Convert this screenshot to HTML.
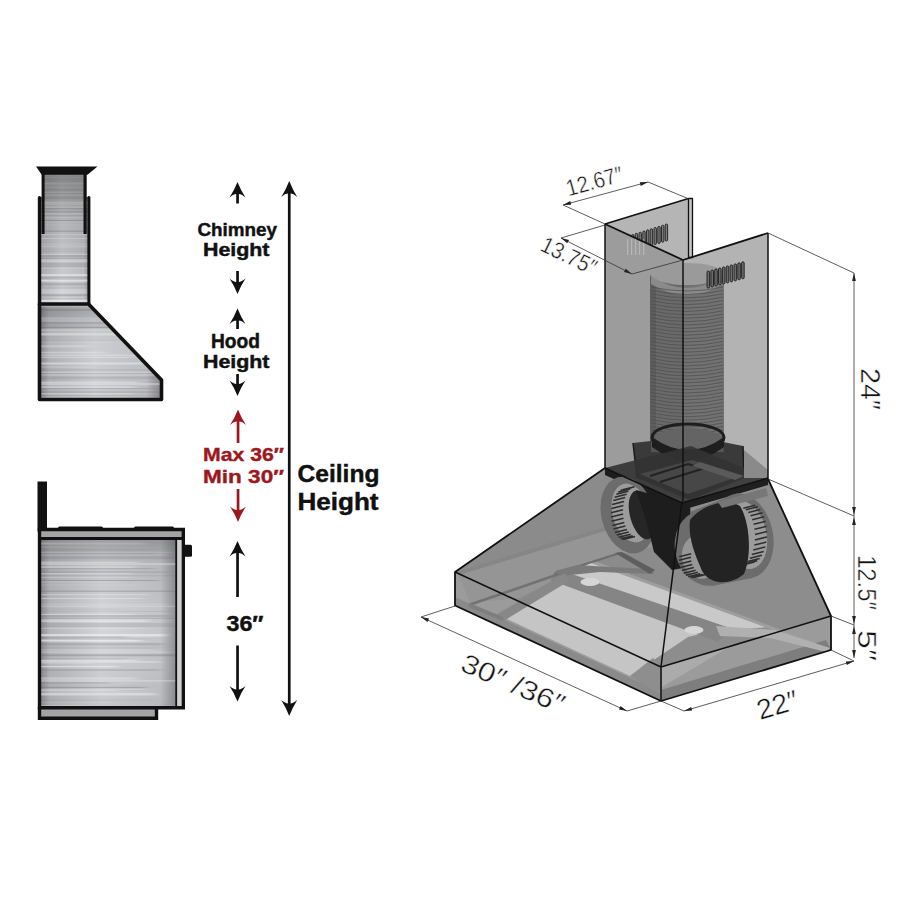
<!DOCTYPE html>
<html><head><meta charset="utf-8">
<style>
html,body{margin:0;padding:0;background:#fff;width:900px;height:900px;overflow:hidden}
svg{display:block}
text{font-family:"Liberation Sans",sans-serif}
</style></head>
<body>
<svg width="900" height="900" viewBox="0 0 900 900">
<defs>
  <linearGradient id="metal" x1="0" y1="0" x2="1" y2="0">
    <stop offset="0" stop-color="#9a9a9a"/>
    <stop offset="0.5" stop-color="#d0d0d2"/>
    <stop offset="1" stop-color="#a0a0a0"/>
  </linearGradient>
  <linearGradient id="metalH" x1="0" y1="0" x2="1" y2="0">
    <stop offset="0" stop-color="#8a8a8e"/>
    <stop offset="0.07" stop-color="#b6b7bb"/>
    <stop offset="0.45" stop-color="#d6d7db"/>
    <stop offset="0.88" stop-color="#c6c7cb"/>
    <stop offset="1" stop-color="#8e8e92"/>
  </linearGradient>
  <filter id="hblur" x="-10%" y="-10%" width="120%" height="120%"><feGaussianBlur stdDeviation="4 0.35"/></filter>
  <linearGradient id="vigV" x1="0" y1="0" x2="0" y2="1">
    <stop offset="0" stop-color="#404040" stop-opacity="0.38"/>
    <stop offset="0.15" stop-color="#404040" stop-opacity="0.12"/>
    <stop offset="0.5" stop-color="#404040" stop-opacity="0"/>
    <stop offset="1" stop-color="#404040" stop-opacity="0.1"/>
  </linearGradient>
  <linearGradient id="chimV" x1="0" y1="0" x2="0" y2="1">
    <stop offset="0" stop-color="#303030" stop-opacity="0.5"/>
    <stop offset="0.35" stop-color="#303030" stop-opacity="0.2"/>
    <stop offset="1" stop-color="#303030" stop-opacity="0"/>
  </linearGradient>
  <linearGradient id="hoodV" x1="0" y1="0" x2="0" y2="1">
    <stop offset="0" stop-color="#303030" stop-opacity="0.3"/>
    <stop offset="0.4" stop-color="#303030" stop-opacity="0.05"/>
    <stop offset="1" stop-color="#303030" stop-opacity="0.08"/>
  </linearGradient>
  <pattern id="brush" width="200" height="180" patternUnits="userSpaceOnUse">
    <rect x="-34" y="2.5" width="178" height="2" fill="#ffffff" opacity="0.48"/>
    <rect x="-36" y="6.5" width="129" height="1" fill="#ffffff" opacity="0.32"/>
    <rect x="-27" y="9.0" width="183" height="0.8" fill="#6a6a70" opacity="0.11"/>
    <rect x="-27" y="9.8" width="176" height="1.5" fill="#6a6a70" opacity="0.09"/>
    <rect x="-6" y="11.8" width="176" height="1" fill="#ffffff" opacity="0.37"/>
    <rect x="-18" y="13.3" width="175" height="0.8" fill="#6a6a70" opacity="0.25"/>
    <rect x="1" y="14.1" width="163" height="1.5" fill="#ffffff" opacity="0.23"/>
    <rect x="-22" y="16.6" width="199" height="1.2" fill="#6a6a70" opacity="0.20"/>
    <rect x="13" y="18.3" width="193" height="0.8" fill="#6a6a70" opacity="0.22"/>
    <rect x="-31" y="21.6" width="169" height="1.5" fill="#ffffff" opacity="0.45"/>
    <rect x="7" y="23.1" width="202" height="2" fill="#ffffff" opacity="0.37"/>
    <rect x="8" y="26.1" width="127" height="2" fill="#ffffff" opacity="0.35"/>
    <rect x="-36" y="28.1" width="190" height="1" fill="#6a6a70" opacity="0.26"/>
    <rect x="-17" y="31.1" width="187" height="2" fill="#6a6a70" opacity="0.16"/>
    <rect x="-10" y="33.1" width="142" height="1.2" fill="#ffffff" opacity="0.39"/>
    <rect x="15" y="35.3" width="170" height="1" fill="#6a6a70" opacity="0.19"/>
    <rect x="-32" y="36.8" width="163" height="1.2" fill="#ffffff" opacity="0.26"/>
    <rect x="1" y="40.0" width="158" height="1" fill="#6a6a70" opacity="0.35"/>
    <rect x="-0" y="41.5" width="121" height="1" fill="#ffffff" opacity="0.21"/>
    <rect x="-15" y="44.5" width="157" height="1" fill="#ffffff" opacity="0.15"/>
    <rect x="-13" y="50.5" width="207" height="1.5" fill="#6a6a70" opacity="0.28"/>
    <rect x="-11" y="54.0" width="160" height="1.2" fill="#ffffff" opacity="0.31"/>
    <rect x="-34" y="58.0" width="177" height="1" fill="#ffffff" opacity="0.39"/>
    <rect x="-17" y="63.8" width="183" height="0.8" fill="#ffffff" opacity="0.23"/>
    <rect x="11" y="65.6" width="219" height="1.5" fill="#ffffff" opacity="0.20"/>
    <rect x="-34" y="68.6" width="154" height="1.2" fill="#6a6a70" opacity="0.10"/>
    <rect x="-39" y="70.8" width="215" height="1.2" fill="#6a6a70" opacity="0.12"/>
    <rect x="-38" y="74.0" width="173" height="1" fill="#ffffff" opacity="0.37"/>
    <rect x="14" y="75.0" width="156" height="2" fill="#6a6a70" opacity="0.22"/>
    <rect x="-2" y="77.5" width="181" height="1.5" fill="#6a6a70" opacity="0.22"/>
    <rect x="8" y="79.5" width="140" height="2.5" fill="#ffffff" opacity="0.31"/>
    <rect x="7" y="83.5" width="167" height="1" fill="#6a6a70" opacity="0.35"/>
    <rect x="9" y="85.0" width="192" height="2" fill="#6a6a70" opacity="0.17"/>
    <rect x="-12" y="88.0" width="154" height="1" fill="#ffffff" opacity="0.19"/>
    <rect x="-19" y="94.0" width="184" height="2.5" fill="#ffffff" opacity="0.51"/>
    <rect x="-11" y="96.5" width="138" height="1.2" fill="#6a6a70" opacity="0.28"/>
    <rect x="-16" y="98.7" width="160" height="0.8" fill="#6a6a70" opacity="0.34"/>
    <rect x="-38" y="99.5" width="179" height="2" fill="#ffffff" opacity="0.55"/>
    <rect x="-4" y="103.0" width="167" height="2.5" fill="#6a6a70" opacity="0.25"/>
    <rect x="-39" y="106.5" width="217" height="1" fill="#6a6a70" opacity="0.12"/>
    <rect x="19" y="107.5" width="139" height="1.5" fill="#6a6a70" opacity="0.12"/>
    <rect x="-26" y="109.5" width="179" height="0.8" fill="#ffffff" opacity="0.27"/>
    <rect x="15" y="111.3" width="155" height="1.5" fill="#ffffff" opacity="0.20"/>
    <rect x="-15" y="114.3" width="212" height="2" fill="#6a6a70" opacity="0.32"/>
    <rect x="-39" y="118.3" width="164" height="1" fill="#6a6a70" opacity="0.22"/>
    <rect x="-30" y="119.8" width="167" height="1.5" fill="#ffffff" opacity="0.47"/>
    <rect x="-8" y="121.3" width="168" height="1.5" fill="#ffffff" opacity="0.42"/>
    <rect x="-37" y="122.8" width="130" height="1.5" fill="#ffffff" opacity="0.23"/>
    <rect x="-36" y="125.8" width="153" height="1.5" fill="#ffffff" opacity="0.51"/>
    <rect x="-13" y="129.3" width="173" height="1.5" fill="#6a6a70" opacity="0.27"/>
    <rect x="-16" y="137.3" width="152" height="2.5" fill="#ffffff" opacity="0.32"/>
    <rect x="7" y="140.3" width="210" height="1.2" fill="#ffffff" opacity="0.42"/>
    <rect x="-25" y="142.0" width="134" height="2" fill="#6a6a70" opacity="0.18"/>
    <rect x="13" y="145.5" width="136" height="1" fill="#6a6a70" opacity="0.11"/>
    <rect x="-16" y="147.0" width="162" height="1" fill="#6a6a70" opacity="0.35"/>
    <rect x="-20" y="149.0" width="166" height="1" fill="#ffffff" opacity="0.30"/>
    <rect x="-9" y="150.0" width="126" height="1.2" fill="#ffffff" opacity="0.40"/>
    <rect x="14" y="151.7" width="138" height="0.8" fill="#ffffff" opacity="0.26"/>
    <rect x="9" y="153.0" width="146" height="2.5" fill="#ffffff" opacity="0.51"/>
    <rect x="-37" y="159.5" width="189" height="1.2" fill="#6a6a70" opacity="0.10"/>
    <rect x="-35" y="162.2" width="146" height="0.8" fill="#ffffff" opacity="0.16"/>
    <rect x="-33" y="165.0" width="121" height="2.5" fill="#ffffff" opacity="0.26"/>
    <rect x="-26" y="171.7" width="131" height="1.5" fill="#ffffff" opacity="0.36"/>
    <rect x="-21" y="173.7" width="151" height="1" fill="#ffffff" opacity="0.23"/>
    <rect x="-24" y="175.2" width="200" height="1" fill="#ffffff" opacity="0.42"/>
    <rect x="-7" y="177.2" width="139" height="0.8" fill="#ffffff" opacity="0.44"/>
  </pattern>
</defs>

<!-- ============ LEFT SCHEMATIC ============ -->
<g id="chimney">
  <polygon points="42,174 86,174 86,197 90,197 90,304 39,304 39,197 42,197" fill="url(#metalH)"/>
  <clipPath id="clipChim"><polygon points="42,174 86,174 86,197 90,197 90,304 39,304 39,197 42,197"/></clipPath><g clip-path="url(#clipChim)"><rect x="20" y="170" width="90" height="140" fill="url(#brush)" filter="url(#hblur)"/></g>
  <polygon points="42,174 86,174 86,197 90,197 90,304 39,304 39,197 42,197" fill="url(#chimV)"/>
  <polygon points="36,166.5 97.5,166.5 87.5,174.8 41.7,174.8" fill="#111"/>
  <rect x="41.6" y="174" width="3" height="60" fill="#111"/>
  <rect x="83.5" y="174" width="3.2" height="60" fill="#111"/>
  <rect x="37.8" y="196" width="3.4" height="110" rx="1.7" fill="#111"/>
  <rect x="87.4" y="196" width="3" height="110" rx="1.5" fill="#111"/>
</g>
<g id="hood">
  <polygon points="40.5,304 88.5,304 160.5,380.5 160.5,398.5 40.5,398.5" fill="url(#metalH)"/>
  <clipPath id="clipHood"><polygon points="40.5,304 88.5,304 160.5,380.5 160.5,398.5 40.5,398.5"/></clipPath><g clip-path="url(#clipHood)"><rect x="20" y="300" width="160" height="105" fill="url(#brush)" filter="url(#hblur)"/></g>
  <polygon points="40.5,304 88.5,304 160.5,380.5 160.5,398.5 40.5,398.5" fill="url(#hoodV)"/>
  <polygon points="39.5,304 88.5,304 161.5,380 161.5,399.5 39.5,399.5" fill="none" stroke="#111" stroke-width="3.6" stroke-linejoin="round"/>
</g>

<g id="range">
  <rect x="37.5" y="481.5" width="9.5" height="50" fill="#111"/>
  <rect x="58" y="526.5" width="45" height="4" rx="1.5" fill="#111"/>
  <rect x="134" y="526.5" width="40" height="4" rx="1.5" fill="#111"/>
  <rect x="40" y="539" width="137" height="168" fill="url(#metalH)"/>
  <clipPath id="clipRange"><rect x="40" y="539" width="137" height="168"/></clipPath><g clip-path="url(#clipRange)"><rect x="20" y="535" width="180" height="176" fill="url(#brush)" filter="url(#hblur)"/></g>
  <rect x="40" y="539" width="137" height="168" fill="url(#vigV)"/>
  <rect x="40" y="531" width="142" height="6" fill="#a4a4a4"/>
  <rect x="40" y="709" width="115" height="8.5" fill="#a4a4a4"/>
  <rect x="176.5" y="539" width="5" height="168" fill="#cfcfcf"/>
  <path d="M39.5,529.5 H183.3 V707.8 H39.5 Z" fill="none" stroke="#111" stroke-width="3.4"/>
  <path d="M39,538.5 H182" stroke="#111" stroke-width="3"/>
  <path d="M176.2,539 V707" stroke="#111" stroke-width="1.8"/>
  <path d="M39.5,707 V718.3 H156.5 V707" fill="none" stroke="#111" stroke-width="3.4"/>
  <rect x="183" y="544.8" width="9" height="12" rx="1.5" fill="#111"/>
</g>

<!-- ============ ARROWS & LABELS ============ -->
<g fill="#111">
  <path d="M237.5,182.0 Q241.1,191.0 245.5,197.5 Q240.5,193.3 237.5,194.3 Q234.5,193.3 229.5,197.5 Q233.9,191.0 237.5,182.0 Z"/>
  <rect x="236.2" y="192" width="2.7" height="11.5"/>
  <rect x="236.2" y="271" width="2.7" height="12"/>
  <path d="M237.5,294.0 Q241.1,285.0 245.5,278.5 Q240.5,282.7 237.5,281.7 Q234.5,282.7 229.5,278.5 Q233.9,285.0 237.5,294.0 Z"/>
  <path d="M237.5,308.5 Q241.1,317.5 245.5,324.0 Q240.5,319.8 237.5,320.8 Q234.5,319.8 229.5,324.0 Q233.9,317.5 237.5,308.5 Z"/>
  <rect x="236.2" y="318" width="2.7" height="11"/>
  <rect x="236.2" y="374" width="2.7" height="11"/>
  <path d="M237.5,396.0 Q241.1,387.0 245.5,380.5 Q240.5,384.7 237.5,383.7 Q234.5,384.7 229.5,380.5 Q233.9,387.0 237.5,396.0 Z"/>
  <path d="M237.5,541.0 Q241.1,550.0 245.5,556.5 Q240.5,552.3 237.5,553.3 Q234.5,552.3 229.5,556.5 Q233.9,550.0 237.5,541.0 Z"/>
  <rect x="236.2" y="551" width="2.7" height="46"/>
  <rect x="236.2" y="645.5" width="2.7" height="46"/>
  <path d="M237.5,701.5 Q241.1,692.5 245.5,686.0 Q240.5,690.2 237.5,689.2 Q234.5,690.2 229.5,686.0 Q233.9,692.5 237.5,701.5 Z"/>
  <rect x="287.9" y="192" width="2.7" height="514"/>
  <path d="M289.25,181.0 Q292.85,190.0 297.25,197.0 Q292.25,192.8 289.25,193.8 Q286.25,192.8 281.25,197.0 Q285.65,190.0 289.25,181.0 Z"/>
  <path d="M289.25,716.0 Q292.85,707.0 297.25,700.0 Q292.25,704.2 289.25,703.2 Q286.25,704.2 281.25,700.0 Q285.65,707.0 289.25,716.0 Z"/>
</g>
<g fill="#9c1820">
  <path d="M238.0,409.5 Q241.6,418.5 246.0,425.0 Q241.0,420.8 238.0,421.8 Q235.0,420.8 230.0,425.0 Q234.4,418.5 238.0,409.5 Z"/>
  <rect x="236.7" y="420" width="2.7" height="23"/>
  <rect x="236.7" y="489" width="2.7" height="23"/>
  <path d="M238.0,522.0 Q241.6,513.0 246.0,506.5 Q241.0,510.7 238.0,509.7 Q235.0,510.7 230.0,506.5 Q234.4,513.0 238.0,522.0 Z"/>
</g>

<g font-weight="bold" fill="#111" stroke="#111" stroke-width="0.45">
  <text x="197.5" y="236" font-size="18.5" textLength="79.5" lengthAdjust="spacingAndGlyphs">Chimney</text>
  <text x="203" y="256.3" font-size="18.5" textLength="66.5" lengthAdjust="spacingAndGlyphs">Height</text>
  <text x="211" y="347.5" font-size="19.5" textLength="49" lengthAdjust="spacingAndGlyphs">Hood</text>
  <text x="203" y="367.7" font-size="18.5" textLength="66.5" lengthAdjust="spacingAndGlyphs">Height</text>
  <text x="226.5" y="630.5" font-size="22.5" textLength="37" lengthAdjust="spacingAndGlyphs">36″</text>
  <text x="297.5" y="482" font-size="24" textLength="82" lengthAdjust="spacingAndGlyphs">Ceiling</text>
  <text x="297.5" y="510" font-size="24" textLength="81" lengthAdjust="spacingAndGlyphs">Height</text>
</g>
<g font-weight="bold" fill="#9c1820" stroke="#9c1820" stroke-width="0.4">
  <text x="203" y="461" font-size="19" textLength="81" lengthAdjust="spacingAndGlyphs">Max 36″</text>
  <text x="203" y="483" font-size="19" textLength="81" lengthAdjust="spacingAndGlyphs">Min 30″</text>
</g>

<!-- ============ 3D HOOD ============ -->
<g id="hood3d">
  <!-- base region fills -->
  <polygon points="455,572 661,667 831,616 831,650 661,701 455,605.5" fill="#9b9b9b"/>
  <polygon points="605,468 682,501 661,667 455,572" fill="#8b8b8b"/>
  <polygon points="682,501 768,479 831,616 661,667" fill="#8d8d8d"/>
  <!-- inner back-top edge band (A-D) -->
  <polygon points="455,572 624,521 628,524 459,575" fill="#868686"/>
  <polygon points="459,575 628,524 660,545 590,561 520,598 470,603" fill="#959595"/>
  <!-- interior floor (light) -->
  <polygon points="507,619 566,578 718,630 688,637 630,676" fill="#c5c5c5"/>
  <polygon points="592,562 770,627 729,630 566,576" fill="#c9c9c9"/>
  <path d="M590,561 L829,649" stroke="#9e9e9e" stroke-width="3" fill="none"/>
  <!-- darker bands along front bottom -->
  <polygon points="455,597 661,692 661,701 455,605.5" fill="#8a8a8a"/>
  <polygon points="661,690 826,640 831,650 661,701" fill="#7e7e7e"/>
  <!-- corner trapezoid & light triangle -->
  <polygon points="630,676 653,658 662,667 662,696" fill="#8e8e8e"/>
  <polygon points="662,667 734,644 662,687" fill="#ababab"/>
  <!-- filter rail band -->
  <polygon points="560,570 730,628 718,642 550,580" fill="#858585"/>
  <polygon points="716,626 775,630 830,648 826,652 770,638 720,636" fill="#b0b0b0"/>
  <ellipse cx="590" cy="582" rx="9.5" ry="4" fill="#d6d6d6"/>
  <ellipse cx="694" cy="630" rx="9.5" ry="4" fill="#d6d6d6"/>
  <!-- struts -->
  <path d="M469,605 L579,567" stroke="#727272" stroke-width="2.6" fill="none"/>
  <path d="M554,574 L620,553" stroke="#6e6e6e" stroke-width="2.2" fill="none"/>
  <polygon points="555,571 577,565 610,567 652,569 654,574 600,572 560,576" fill="#7a7a7a"/>
  <polygon points="615,553 622,552 655,570 650,574" fill="#5e5e5e"/>
  <path d="M498,619 L567,577" stroke="#888" stroke-width="9" fill="none"/>
  <path d="M469,605 L503,619" stroke="#7e7e7e" stroke-width="4" fill="none"/>
  

  <!-- CHIMNEY faces -->
  <polygon points="605,224 688.5,198.5 688.5,258 683,260" fill="#b5b5b5"/>
  <polygon points="605,224 683,260 683,501 605,468" fill="#9c9c9c"/>
  <polygon points="683,260 768,233 768,479 683,501" fill="#b3b3b3"/>
  <!-- duct cylinder -->
  <rect x="650" y="273" width="74" height="172" fill="#6a6a6a"/>
  <rect x="683" y="273" width="41" height="172" fill="#727272"/>
  <rect x="650" y="273" width="6" height="172" fill="#5e5e5e"/>
  <ellipse cx="687" cy="274" rx="37" ry="11" fill="#9a9a9a"/>
  <path d="M651,276 Q687,300 723,276 L723,284 Q687,306 651,284 Z" fill="#8a8a8a"/>
  <path d="M651,287.0 Q687,295.0 723,287.0 M651,290.4 Q687,298.4 723,290.4 M651,293.8 Q687,301.8 723,293.8 M651,297.2 Q687,305.2 723,297.2 M651,300.6 Q687,308.6 723,300.6 M651,304.0 Q687,312.0 723,304.0 M651,307.4 Q687,315.4 723,307.4 M651,310.8 Q687,318.8 723,310.8 M651,314.2 Q687,322.2 723,314.2 M651,317.6 Q687,325.6 723,317.6 M651,321.0 Q687,329.0 723,321.0 M651,324.4 Q687,332.4 723,324.4 M651,327.8 Q687,335.8 723,327.8 M651,331.2 Q687,339.2 723,331.2 M651,334.6 Q687,342.6 723,334.6 M651,338.0 Q687,346.0 723,338.0 M651,341.4 Q687,349.4 723,341.4 M651,344.8 Q687,352.8 723,344.8 M651,348.2 Q687,356.2 723,348.2 M651,351.6 Q687,359.6 723,351.6 M651,355.0 Q687,363.0 723,355.0 M651,358.4 Q687,366.4 723,358.4 M651,361.8 Q687,369.8 723,361.8 M651,365.2 Q687,373.2 723,365.2 M651,368.6 Q687,376.6 723,368.6 M651,372.0 Q687,380.0 723,372.0 M651,375.4 Q687,383.4 723,375.4 M651,378.8 Q687,386.8 723,378.8 M651,382.2 Q687,390.2 723,382.2 M651,385.6 Q687,393.6 723,385.6 M651,389.0 Q687,397.0 723,389.0 M651,392.4 Q687,400.4 723,392.4 M651,395.8 Q687,403.8 723,395.8 M651,399.2 Q687,407.2 723,399.2 M651,402.6 Q687,410.6 723,402.6 M651,406.0 Q687,414.0 723,406.0 M651,409.4 Q687,417.4 723,409.4 M651,412.8 Q687,420.8 723,412.8 M651,416.2 Q687,424.2 723,416.2 M651,419.6 Q687,427.6 723,419.6 M651,423.0 Q687,431.0 723,423.0 M651,426.4 Q687,434.4 723,426.4 M651,429.8 Q687,437.8 723,429.8 M651,433.2 Q687,441.2 723,433.2 M651,436.6 Q687,444.6 723,436.6 M651,440.0 Q687,448.0 723,440.0" stroke="#4a4a4a" stroke-width="0.9" fill="none" opacity="0.75"/>

  <!-- housing box & collar -->
  <polygon points="633,443 651,441 723,442 743,446 744,478 690,500 637,478" fill="#3a3a3a"/>
  <polygon points="651,441 723,442 724,452 651,452" fill="#555"/>
  <path d="M633,443 L637,478 M743,446 L744,478" stroke="#1a1a1a" stroke-width="1.5" fill="none"/>
  <ellipse cx="688" cy="440" rx="34" ry="12" fill="#646464"/>
  <path d="M652,437 L652,447 Q688,474 724,447 L724,437 Q688,463 652,437 Z" fill="#1e1e1e"/>
  <ellipse cx="688" cy="437.5" rx="36" ry="13.5" fill="none" stroke="#1e1e1e" stroke-width="3"/>
  <!-- base plate -->
  <polygon points="605,468 691,446 768,478 682,503" fill="#333" opacity="0.9"/>
  <polygon points="744,450 768,470 768,478 744,478" fill="#8a8a8a"/>
  <polygon points="640,474 692,460 740,476 688,494" fill="#474747"/>
  <path d="M650,476 L688,464 L735,478 M660,482 L705,468" stroke="#222" stroke-width="2" fill="none"/>
  <polygon points="700,462 744,476 735,480 692,466" fill="#5a5a5a"/>
  <polygon points="605,468 682,503 682,510 605,475" fill="#1d1d1d"/>
  <polygon points="682,503 768,478 768,485 682,510" fill="#1f1f1f"/>

  <!-- blowers -->
  <g>
    <ellipse cx="628" cy="515" rx="26.5" ry="39" transform="rotate(-15 628 515)" fill="#6c6c6c"/>
    <ellipse cx="631" cy="513" rx="18.5" ry="30" transform="rotate(-15 631 513)" fill="#9c9c9c"/>
    <path d="M623.0,539.4 L635.0,536.4 M620.7,538.7 L632.7,535.7 M618.6,537.3 L630.6,534.3 M616.7,535.1 L628.7,532.1 M614.9,532.4 L626.9,529.4 M613.4,529.1 L625.4,526.1 M612.3,525.4 L624.3,522.4 M611.5,521.3 L623.5,518.3 M611.1,517.1 L623.1,514.1 M611.0,512.7 L623.0,509.7 M611.4,508.5 L623.4,505.5 M612.1,504.4 L624.1,501.4 M613.2,500.6 L625.2,497.6 M614.6,497.2 L626.6,494.2 M616.3,494.3 L628.3,491.3 M618.2,492.1 L630.2,489.1 M620.3,490.5 L632.3,487.5 M622.5,489.7 L634.5,486.7" stroke="#2e2e2e" stroke-width="1.5" fill="none"/>
    <ellipse cx="642" cy="515" rx="12" ry="25" transform="rotate(-15 642 515)" fill="#262626"/>
    <polygon points="636,490 690,505 694,566 672,570 654,552 646,520" fill="#1d1d1d"/>
    <!-- right blower hull -->
    <ellipse cx="706" cy="548" rx="31" ry="38" transform="rotate(-12 706 548)" fill="#6c6c6c"/>
    <polygon points="690,512 738,493 752,578 712,586" fill="#6c6c6c"/>
    <ellipse cx="743" cy="536" rx="30" ry="43" transform="rotate(-12 743 536)" fill="#6c6c6c"/>
    <ellipse cx="745" cy="535" rx="21.5" ry="34.5" transform="rotate(-12 745 535)" fill="#9c9c9c"/>
    <ellipse cx="700" cy="557" rx="18" ry="22" transform="rotate(-12 700 557)" fill="#969696"/>
    <path d="M743.3,508.2 L755.3,505.2 M745.9,509.8 L757.9,506.8 M748.3,512.4 L760.3,509.4 M750.5,515.7 L762.5,512.7 M752.2,519.7 L764.2,516.7 M753.6,524.3 L765.6,521.3 M754.5,529.3 L766.5,526.3 M755.0,534.6 L767.0,531.6 M754.9,539.9 L766.9,536.9 M754.3,545.1 L766.3,542.1 M753.3,550.0 L765.3,547.0 M751.8,554.4 L763.8,551.4 M749.9,558.3 L761.9,555.3 M747.7,561.4 L759.7,558.4 M745.2,563.7 L757.2,560.7 M742.5,565.1 L754.5,562.1" stroke="#2e2e2e" stroke-width="1.5" fill="none"/>
    <path d="M693.6,577.4 L705.6,574.4 M690.9,577.4 L702.9,574.4 M688.3,576.7 L700.3,573.7 M685.8,575.3 L697.8,572.3 M683.6,573.3 L695.6,570.3 M681.8,570.6 L693.8,567.6 M680.3,567.5 L692.3,564.5 M679.4,564.0 L691.4,561.0 M679.0,560.3 L691.0,557.3 M679.2,556.7 L691.2,553.7" stroke="#2e2e2e" stroke-width="1.5" fill="none"/>
    <path d="M690,520 C702,504 728,498 740,506 C750,522 752,556 744,574 C730,586 706,586 700,566 C694,552 688,536 690,520 Z" fill="#232323"/>
    <polygon points="718,502 766,488 768,496 722,508" fill="#777"/>
  </g>

  <!-- vents -->
  <clipPath id="rearclip"><polygon points="605,224 690,198 692,258 683,260"/></clipPath>
    <g clip-path="url(#rearclip)" fill="#7a7a7a" stroke="#1e1e1e" stroke-width="0.9">
    <rect x="631.5" y="234.5" width="2.4" height="17" rx="1.2"/>
    <rect x="635.2" y="233.3" width="2.4" height="17" rx="1.2"/>
    <rect x="639.0" y="232.2" width="2.4" height="17" rx="1.2"/>
    <rect x="642.8" y="231.0" width="2.4" height="17" rx="1.2"/>
    <rect x="646.5" y="229.8" width="2.4" height="17" rx="1.2"/>
    <rect x="650.2" y="228.7" width="2.4" height="17" rx="1.2"/>
    <rect x="654.0" y="227.5" width="2.4" height="17" rx="1.2"/>
    <rect x="657.8" y="226.4" width="2.4" height="17" rx="1.2"/>
    <rect x="661.5" y="225.2" width="2.4" height="17" rx="1.2"/>
    <rect x="665.2" y="224.0" width="2.4" height="17" rx="1.2"/>
    </g>
    <g fill="#d8d8d8" opacity="0.45">
    <rect x="627" y="239" width="1.2" height="16"/>
    <rect x="631" y="239" width="1.2" height="16"/>
    <rect x="635" y="239" width="1.2" height="16"/>
    <rect x="639" y="239" width="1.2" height="16"/>
    <rect x="643" y="239" width="1.2" height="16"/>
    </g>
    <g fill="#6a6a6a" stroke="#1e1e1e" stroke-width="0.9">
    <rect x="707.0" y="271.0" width="2.6" height="17" rx="1.3"/>
    <rect x="710.9" y="270.0" width="2.6" height="17" rx="1.3"/>
    <rect x="714.7" y="269.0" width="2.6" height="17" rx="1.3"/>
    <rect x="718.5" y="267.9" width="2.6" height="17" rx="1.3"/>
    <rect x="722.4" y="266.9" width="2.6" height="17" rx="1.3"/>
    <rect x="726.2" y="265.9" width="2.6" height="17" rx="1.3"/>
    <rect x="730.1" y="264.9" width="2.6" height="17" rx="1.3"/>
    <rect x="734.0" y="263.9" width="2.6" height="17" rx="1.3"/>
    <rect x="737.8" y="262.8" width="2.6" height="17" rx="1.3"/>
    <rect x="741.6" y="261.8" width="2.6" height="17" rx="1.3"/>
    </g>

  <!-- EDGES -->
  <g stroke="#111" fill="none" stroke-linejoin="round">
    <path d="M605,224 L688.5,198.5" stroke-width="1.6"/>
    <rect x="688.5" y="198.5" width="4" height="59" fill="#c4c4c4" stroke-width="1.3"/>
    <path d="M605,224 L683,260 L768,233" stroke-width="1.8"/>
    <path d="M605,224 V468 M683,260 V501 M768,233 V479" stroke-width="1.5"/>
    <path d="M605,468 L455,572 V605.5 L661,701 L831,650 V616 L768,479" stroke-width="1.8"/>
    <path d="M455,572 L661,667 L831,616 M661,667 V701 M682,501 L661,667" stroke-width="1.5"/>
    <path d="M605,468 L682,503 L768,478" stroke-width="1.4"/>
  </g>

  <!-- DIMENSION LINES -->
  <g stroke="#333" stroke-width="0.8" fill="none">
    <path d="M605,224 L563,205 L648,182 L689,199"/>
    <path d="M605,225 L561,238 L632,274 L683,260"/>
    <path d="M768,233 L854,273 M854,273 V658 M768,479 L854,516 M831,616 L854,625 M831,650 L854,661"/>
    <path d="M455,606 L421,617 L627,711 L661,701 L684,711 L854,661"/>
  </g>
  <path fill="#222" d="M563,205 L571.22,204.74 L570.23,201.08 Z M648,182 L639.78,182.26 L640.77,185.92 Z M561,238 L567.28,243.31 L568.99,239.92 Z M632,274 L625.72,268.69 L624.01,272.08 Z M854,273 L852.10,281.00 L855.90,281.00 Z M854,515 L855.90,507.00 L852.10,507.00 Z M854,517 L852.10,525.00 L855.90,525.00 Z M854,624 L855.90,616.00 L852.10,616.00 Z M854,626 L852.10,634.00 L855.90,634.00 Z M854,658 L855.90,650.00 L852.10,650.00 Z M421,617 L427.49,622.05 L429.07,618.59 Z M627,711 L620.51,705.95 L618.93,709.41 Z M684,711 L692.21,710.57 L691.14,706.92 Z M854,661 L845.79,661.43 L846.86,665.08 Z"/>
  <g fill="#111" font-size="22" stroke="#fff" stroke-width="0.45">
    <text transform="translate(568.5,196.5) rotate(-15.5)" font-size="23" textLength="58" lengthAdjust="spacingAndGlyphs">12.67″</text>
    <text transform="translate(539,250) rotate(26)" font-size="23" textLength="59" lengthAdjust="spacingAndGlyphs">13.75″</text>
    <text transform="translate(860.5,368) rotate(90)" font-size="27" textLength="42" lengthAdjust="spacingAndGlyphs">24″</text>
    <text transform="translate(857.5,555) rotate(90)" font-size="26" textLength="55" lengthAdjust="spacingAndGlyphs">12.5″</text>
    <text transform="translate(857.5,630) rotate(90)" font-size="26" textLength="31" lengthAdjust="spacingAndGlyphs">5″</text>
    <text transform="translate(459,670) rotate(23.5)" font-size="27" textLength="110" lengthAdjust="spacingAndGlyphs">30″ /36″</text>
    <text transform="translate(760,720) rotate(-16.5)" font-size="28" textLength="42" lengthAdjust="spacingAndGlyphs">22″</text>
  </g>
</g>

</svg>
</body></html>
